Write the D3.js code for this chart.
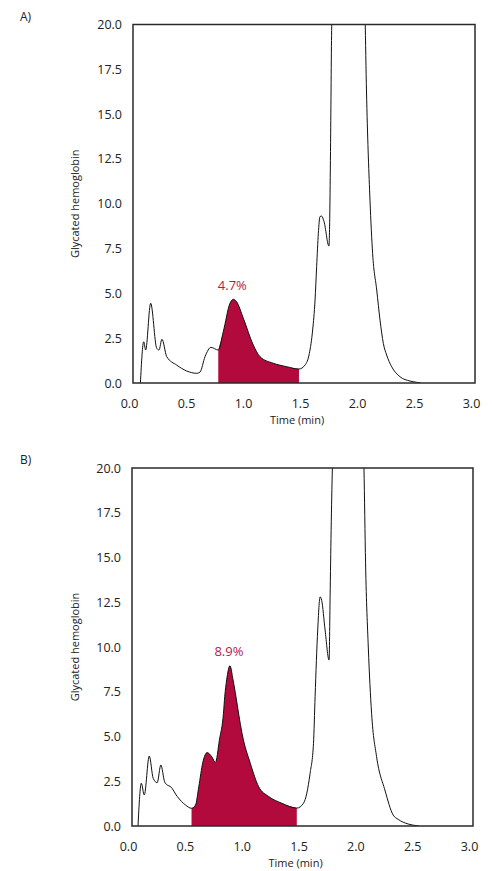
<!DOCTYPE html>
<html>
<head>
<meta charset="utf-8">
<script src="https://cdn.jsdelivr.net/npm/d3@7"></script>
<style>
body { margin: 0; background: #fff; }
text { font-family: "Open Sans", sans-serif; fill: #222; }
</style>
</head>
<body>
<svg id="chart" width="492" height="871"></svg>
<script>
var timeA = [0.10, 0.129, 0.146, 0.19, 0.243, 0.263, 0.289, 0.331, 0.418, 0.506, 0.594, 0.623, 0.667, 0.719,
    0.783, 0.827, 0.886, 0.915, 0.944, 1.003, 1.09, 1.149, 1.266, 1.383, 1.491,
    1.544, 1.582, 1.611, 1.632, 1.646, 1.661, 1.675, 1.69, 1.711, 1.754, 1.763, 1.769, 1.778, 1.80, 1.93, 2.06,
    2.085, 2.114, 2.137, 2.173, 2.202, 2.231, 2.26, 2.304, 2.377, 2.465, 2.523, 2.56];
var signalA = [0, 2.30, 1.84, 4.45, 1.94, 1.84, 2.44, 1.47, 1.0, 0.67, 0.54, 0.61, 1.47, 1.99,
    1.84, 2.86, 4.45, 4.67, 4.53, 3.61, 2.12, 1.47, 1.10, 0.91, 0.78,
    1.0, 1.65, 2.96, 4.63, 6.49, 8.35, 9.28, 9.31, 9.0, 7.64, 10.2, 13.9, 19.9, 24, 40, 24,
    15.8, 10.2, 7.23, 5.19, 3.51, 2.21, 1.56, 0.91, 0.35, 0.11, 0.04, 0];

var timeB = [0.088, 0.117, 0.143, 0.187, 0.222, 0.257, 0.289, 0.322, 0.345, 0.374, 0.433, 0.506,
    0.559, 0.594, 0.623, 0.658, 0.696, 0.74, 0.769, 0.804, 0.84, 0.851, 0.868, 0.897, 0.924, 0.95, 0.975,
    1.003, 1.076, 1.149, 1.237, 1.354, 1.485,
    1.544, 1.573, 1.602, 1.632, 1.646, 1.669, 1.69, 1.704, 1.734, 1.769, 1.778, 1.787, 1.798, 1.82, 1.94, 2.06,
    2.076, 2.09, 2.114, 2.143, 2.187, 2.26, 2.333, 2.377, 2.465, 2.538, 2.56];
var signalB = [0, 2.39, 1.73, 3.91, 2.66, 2.42, 3.41, 2.47, 2.29, 2.2, 1.65, 1.17,
    0.99, 1.17, 2.2, 3.55, 4.1, 3.84, 3.55, 4.8, 6.3, 7.22, 8.16, 8.95, 8.16, 7.22, 6.2,
    5.18, 3.5, 2.2, 1.65, 1.27, 1.0,
    1.27, 1.83, 2.94, 4.62, 7.22, 10.95, 12.8, 12.6, 10.95, 9.27, 12.8, 16.5, 20, 24, 40, 24,
    20, 14.7, 10.0, 6.3, 3.87, 2.01, 0.61, 0.37, 0.11, 0.02, 0];

var xTicks = [0, 0.5, 1.0, 1.5, 2.0, 2.5, 3.0];
var yTicks = [0, 2.5, 5.0, 7.5, 10.0, 12.5, 15.0, 17.5, 20.0];
var panelNames = ["A)", "B)"];
var shareLabels = ["4.7%", "8.9%"];
var shareStart = [0.783, 0.559];
var shareEnd = [1.491, 1.485];

var svg = d3.select("#chart");

function drawPanel(i, box, times, signal) {
    var pts = times.map(function(t, k) { return { t: t, v: signal[k] }; });
    var g = svg.append("g").attr("id", "panel" + i);

    var x = d3.scaleLinear().domain([0, 3]).range([box.left - 4, box.right - 4]);
    var y = d3.scaleLinear().domain([0, 20]).range([box.bottom, box.top]);

    g.append("clipPath").attr("id", "clip" + i)
        .append("rect")
        .attr("x", box.left).attr("y", box.top)
        .attr("width", box.right - box.left).attr("height", box.bottom - box.top);

    var plot = g.append("g").attr("clip-path", "url(#clip" + i + ")");

    var shaded = pts.filter(function(d) { return d.t >= shareStart[i] && d.t <= shareEnd[i]; });
    var area = d3.area()
        .x(function(d) { return x(d.t); })
        .y0(y(0))
        .y1(function(d) { return y(d.v); })
        .curve(d3.curveMonotoneX);
    plot.append("path").datum(shaded)
        .attr("d", area)
        .attr("fill", "#b20a3c");

    var line = d3.line()
        .x(function(d) { return x(d.t); })
        .y(function(d) { return y(d.v); })
        .curve(d3.curveMonotoneX);
    plot.append("path").datum(pts)
        .attr("d", line)
        .attr("fill", "none")
        .attr("stroke", "#111")
        .attr("stroke-width", 1)
        .attr("stroke-linejoin", "round");

    g.append("rect")
        .attr("x", box.left).attr("y", box.top)
        .attr("width", box.right - box.left).attr("height", box.bottom - box.top)
        .attr("fill", "none")
        .attr("stroke", "#2a2a2a")
        .attr("stroke-width", 1.5);

    var xAxis = d3.axisBottom(x).tickValues(xTicks).tickFormat(d3.format(".1f")).tickSize(0).tickPadding(16);
    var xg = g.append("g").attr("transform", "translate(0," + box.bottom + ")").call(xAxis);
    xg.select(".domain").remove();

    var yAxis = d3.axisLeft(y).tickValues(yTicks).tickFormat(d3.format(".1f")).tickSize(0).tickPadding(11);
    var yg = g.append("g").attr("transform", "translate(" + box.left + ",0)").call(yAxis);
    yg.select(".domain").remove();

    g.selectAll(".tick text")
        .attr("font-family", "Open Sans, sans-serif")
        .attr("font-size", 12.5)
        .attr("fill", "#222");

    g.append("text")
        .attr("x", (box.left + box.right) / 2 - 7)
        .attr("y", box.bottom + 41)
        .attr("text-anchor", "middle")
        .attr("font-size", 11)
        .text("Time (min)");

    g.append("text")
        .attr("transform", "translate(79," + (box.top + box.bottom) / 2 + ") rotate(-90)")
        .attr("text-anchor", "middle")
        .attr("font-size", 11)
        .text("Glycated hemoglobin");

    g.append("text")
        .attr("x", 20)
        .attr("y", box.top - 4)
        .attr("font-size", 12)
        .text(panelNames[i]);

    var peak = d3.greatest(shaded, function(d) { return d.v; });
    g.append("text")
        .attr("x", x(peak.t) - 1)
        .attr("y", y(peak.v) - 14)
        .attr("dy", "0.35em")
        .attr("text-anchor", "middle")
        .attr("font-size", 13)
        .style("fill", "#b8174c")
        .text(shareLabels[i]);
}

drawPanel(0, { left: 133, right: 475, top: 24.5, bottom: 383 }, timeA, signalA);
drawPanel(1, { left: 132, right: 473, top: 468, bottom: 826 }, timeB, signalB);
</script>
</body>
</html>
